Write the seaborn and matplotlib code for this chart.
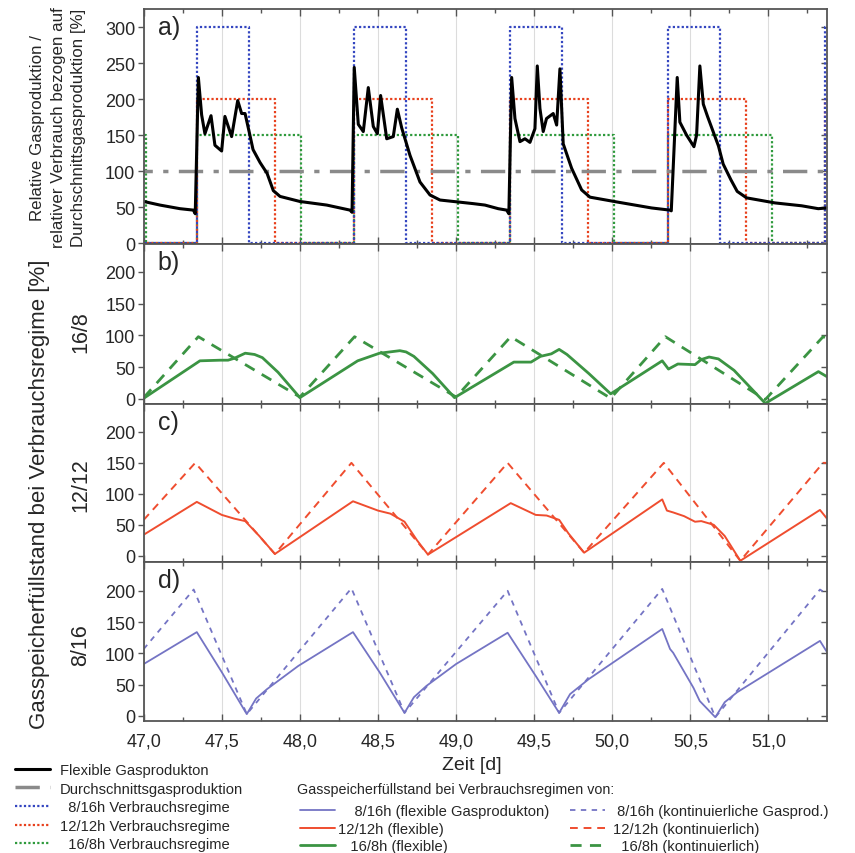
import numpy as np
import pandas as pd
import matplotlib
matplotlib.use("Agg")
import matplotlib.pyplot as plt
import seaborn as sns
from matplotlib.ticker import MultipleLocator, FuncFormatter
from matplotlib.lines import Line2D

# ---------------- data ----------------
# consumption regime start times [d] and durations [d], levels [%]
regime_start = [46.345, 47.34, 48.345, 49.345, 50.355, 51.365]
dur_8_16, level_8_16 = 0.333, 300
dur_12_12, level_12_12 = 0.50, 200
dur_16_8, level_16_8 = 0.667, 150
avg_level = 100

# flexible gas production [%]
prod_t = [47.0, 47.104, 47.232, 47.318, 47.33, 47.35, 47.371, 47.392, 47.431, 47.456,
          47.499, 47.52, 47.563, 47.602, 47.627, 47.649, 47.68, 47.70, 47.745, 47.79,
          47.83, 47.873, 48.0, 48.172, 48.321, 48.334, 48.348, 48.374, 48.406, 48.438,
          48.47, 48.496, 48.517, 48.556, 48.598, 48.624, 48.652, 48.705, 48.769, 48.833,
          48.897, 49.11, 49.185, 49.27, 49.324, 49.338, 49.356, 49.377, 49.409, 49.441,
          49.473, 49.505, 49.52, 49.537, 49.558, 49.579, 49.622, 49.644, 49.665, 49.686,
          49.74, 49.804, 49.857, 50.038, 50.252, 50.369, 50.378, 50.416, 50.433, 50.476,
          50.523, 50.54, 50.561, 50.583, 50.61, 50.68, 50.71, 50.76, 50.80, 50.86,
          51.042, 51.213, 51.319, 51.375]
prod_v = [58, 53, 48, 46, 41, 230, 178, 152, 177, 136,
          128, 176, 148, 198, 180, 180, 150, 130, 112, 97,
          73, 65, 58, 53, 46, 43, 244, 165, 155, 216,
          162, 152, 205, 145, 148, 186, 160, 122, 85, 67,
          60, 55, 53, 48, 46, 41, 230, 173, 141, 145,
          140, 159, 246, 187, 155, 173, 180, 164, 242, 138,
          104, 74, 64, 57, 49, 46, 45, 230, 168, 150,
          134, 150, 246, 193, 176, 135, 110, 88, 72, 63,
          56, 52, 48, 49]

# storage level 16/8 [%]
flex16_t = [47.0, 47.36, 47.49, 47.54, 47.58, 47.65, 47.71, 47.76, 47.86, 48.0,
            48.37, 48.44, 48.51, 48.64, 48.68, 48.73, 48.85, 48.99,
            49.37, 49.48, 49.54, 49.61, 49.66, 49.71, 49.85, 49.99,
            50.32, 50.36, 50.42, 50.53, 50.57, 50.62, 50.68, 50.78, 50.98,
            51.32, 51.375]
flex16_v = [1, 60, 61, 61, 64, 72, 70, 65, 42, 2,
            60, 66, 72, 76, 74, 67, 40, 2,
            58, 58, 67, 71, 78, 70, 40, 8,
            60, 47, 55, 54, 62, 66, 63, 45, -7,
            43, 35]
cont16_t = [47.0, 47.35, 48.0, 48.35, 49.0, 49.35, 49.99, 50.34, 50.98, 51.35, 51.375]
cont16_v = [2, 98, 3, 98, 3, 98, 1, 98, -1, 98, 95]

# storage level 12/12 [%]
flex12_t = [47.0, 47.34, 47.5, 47.58, 47.65, 47.74, 47.84,
            48.34, 48.5, 48.58, 48.67, 48.75, 48.82,
            49.35, 49.51, 49.58, 49.66, 49.72, 49.82,
            50.32, 50.35, 50.39, 50.46, 50.53, 50.57, 50.65, 50.72, 50.82,
            51.33, 51.375]
flex12_v = [34, 87, 66, 60, 56, 32, 3,
            88, 73, 68, 55, 25, 2,
            85, 66, 65, 58, 36, 5,
            91, 73, 70, 64, 55, 56, 50, 32, -8,
            74, 60]
cont12_t = [47.0, 47.33, 47.84, 48.33, 48.82, 49.33, 49.82, 50.33, 50.82, 51.35, 51.375]
cont12_v = [58, 150, 3, 150, 2, 150, 5, 150, -8, 150, 150]

# storage level 8/16 [%]
flex8_t = [47.0, 47.34, 47.5, 47.66, 47.72, 47.79, 47.99,
           48.34, 48.51, 48.67, 48.73, 48.81, 49.0,
           49.33, 49.51, 49.66, 49.73, 49.85,
           50.32, 50.37, 50.39, 50.52, 50.56, 50.66, 50.72, 50.80,
           51.33, 51.375]
flex8_v = [83, 134, 70, 3, 28, 43, 80,
           134, 70, 5, 30, 48, 83,
           133, 64, 5, 35, 59,
           139, 107, 101, 45, 24, -2, 22, 38,
           120, 102]
cont8_t = [47.0, 47.32, 47.66, 48.33, 48.67, 49.33, 49.66, 50.32, 50.66, 51.33, 51.375]
cont8_v = [107, 202, 3, 204, 5, 200, 5, 203, -2, 202, 195]

# ---------------- style ----------------
sns.set_style("white")
plt.rcParams["font.family"] = ["Liberation Sans", "DejaVu Sans"]

C_BLUE_DOT = "#3345c0"
C_RED_DOT = "#e8401c"
C_GREEN_DOT = "#2e9a3c"
C_GRAY = "#8a8a8a"
C_GREEN = "#3b9443"
C_RED = "#ef4d2f"
C_BLUE = "#7474c4"
SPINE = "#555555"

def step_series(starts, dur, level):
    xs, ys = [46.0], [0]
    for s in starts:
        xs += [s, s, s + dur, s + dur]
        ys += [0, level, level, 0]
    xs.append(52.0)
    ys.append(0)
    return pd.DataFrame({"t": xs, "v": ys})

fig = plt.figure(figsize=(8.55, 8.54), dpi=100)
gs = fig.add_gridspec(4, 1, left=143.7 / 855, right=827 / 855,
                      top=1 - 10 / 854, bottom=1 - 722 / 854,
                      height_ratios=[235, 160, 158, 159], hspace=0)
axes = [fig.add_subplot(gs[i]) for i in range(4)]

ylims = [(-1, 325), (-8, 244), (-10, 245), (-8, 246)]
ymax_tick = [300, 200, 200, 200]
letters = ["a)", "b)", "c)", "d)"]

for i, ax in enumerate(axes):
    ax.set_xlim(47.0, 51.375)
    ax.set_ylim(*ylims[i])
    ax.xaxis.set_major_locator(MultipleLocator(0.5))
    ax.xaxis.set_minor_locator(MultipleLocator(0.25))
    ax.set_yticks(np.arange(0, ymax_tick[i] + 1, 50))
    ax.grid(axis="x", which="major", color="#dcdcdc", lw=0.8)
    ax.set_axisbelow(True)
    for sp in ax.spines.values():
        sp.set_color(SPINE)
        sp.set_linewidth(1.3)
    ax.tick_params(axis="x", which="both", direction="in", top=True, bottom=True,
                   color=SPINE, labelsize=13, pad=8)
    ax.tick_params(axis="x", which="major", length=5, width=1)
    ax.tick_params(axis="x", which="minor", length=3, width=1)
    ax.tick_params(axis="y", which="major", direction="out", length=4, width=1,
                   color=SPINE, labelsize=13, pad=2, left=True)
    sec = ax.secondary_yaxis("right")
    sec.set_yticks(np.arange(0, ymax_tick[i] + 1, 50))
    sec.tick_params(direction="in", length=4, width=1, color=SPINE, labelright=False)
    sec.spines["right"].set_visible(False)
    if i < 3:
        ax.tick_params(axis="x", labelbottom=False)
    else:
        ax.xaxis.set_major_formatter(FuncFormatter(lambda v, p: f"{v:.1f}".replace(".", ",")))
    ax.annotate(letters[i], xy=(0, 1), xycoords="axes fraction", xytext=(14, -6),
                textcoords="offset pixels", ha="left", va="top", fontsize=18)

# panel a
ax = axes[0]
for starts, dur, lev, col in [(regime_start, dur_16_8, level_16_8, C_GREEN_DOT),
                              (regime_start, dur_12_12, level_12_12, C_RED_DOT),
                              (regime_start, dur_8_16, level_8_16, C_BLUE_DOT)]:
    df = step_series(starts, dur, lev)
    sns.lineplot(data=df, x="t", y="v", ax=ax, color=col, lw=1.6,
                 linestyle=(0, (1, 1)), estimator=None, sort=False)
avg_df = pd.DataFrame({"t": [46.9, 51.5], "v": [avg_level, avg_level]})
sns.lineplot(data=avg_df, x="t", y="v", ax=ax, color=C_GRAY, lw=2.5,
             linestyle=(0, (7, 3, 1.5, 3)), estimator=None, sort=False)
sns.lineplot(x=prod_t, y=prod_v, ax=ax, color="black", lw=2.2, estimator=None, sort=False)

# panels b-d
for ax, ft, fv, ct, cv, col, lw, dash in [
        (axes[1], flex16_t, flex16_v, cont16_t, cont16_v, C_GREEN, 2.0, (4, 3)),
        (axes[2], flex12_t, flex12_v, cont12_t, cont12_v, C_RED, 1.4, (4, 3)),
        (axes[3], flex8_t, flex8_v, cont8_t, cont8_v, C_BLUE, 1.3, (3, 3))]:
    sns.lineplot(x=ct, y=cv, ax=ax, color=col, lw=lw, linestyle=(0, dash),
                 estimator=None, sort=False)
    sns.lineplot(x=ft, y=fv, ax=ax, color=col, lw=lw, estimator=None, sort=False)

for ax in axes:
    ax.set_xlabel("")
    ax.set_ylabel("")
    if ax.get_legend() is not None:
        ax.get_legend().remove()

# axis labels
fig.text(472 / 855, 1 - 766 / 854, "Zeit [d]", ha="center", va="center", fontsize=14)
fig.text(58 / 855, 1 - 128 / 854,
         "Relative Gasproduktion /\nrelativer Verbrauch bezogen auf\nDurchschnittsgasproduktion [%]",
         rotation=90, ha="center", va="center", multialignment="center",
         fontsize=12.2, linespacing=1.45)
fig.text(40 / 855, 1 - 494 / 854, "Gasspeicherfüllstand bei Verbrauchsregime [%]",
         rotation=90, ha="center", va="center", fontsize=16)
for lab, yc in [("16/8", 332), ("12/12", 485), ("8/16", 645)]:
    fig.text(81 / 855, 1 - yc / 854, lab, rotation=90, ha="center", va="center",
             fontsize=15.5)

# legends
lk = dict(frameon=False, fontsize=10.6, borderpad=0, borderaxespad=0,
          loc="upper left", handlelength=2.4)
h_left = [Line2D([], [], color="black", lw=2.2),
          Line2D([], [], color=C_GRAY, lw=2.5, linestyle=(0, (7, 3, 1.5, 3))),
          Line2D([], [], color=C_BLUE_DOT, lw=1.6, linestyle=(0, (1, 1))),
          Line2D([], [], color=C_RED_DOT, lw=1.6, linestyle=(0, (1, 1))),
          Line2D([], [], color=C_GREEN_DOT, lw=1.6, linestyle=(0, (1, 1)))]
l_left = ["Flexible Gasprodukton", "Durchschnittsgasproduktion",
          "  8/16h Verbrauchsregime", "12/12h Verbrauchsregime", "  16/8h Verbrauchsregime"]
fig.legend(h_left, l_left, bbox_to_anchor=(15 / 855, 1 - 764 / 854),
           handletextpad=0.65, labelspacing=0.31, **lk)

fig.text(297 / 855, 1 - 790 / 854, "Gasspeicherfüllstand bei Verbrauchsregimen von:",
         ha="left", va="center", fontsize=10.3)
h_mid = [Line2D([], [], color=C_BLUE, lw=1.3),
         Line2D([], [], color=C_RED, lw=1.4),
         Line2D([], [], color=C_GREEN, lw=2.0)]
l_mid = ["    8/16h (flexible Gasprodukton)", "12/12h (flexible)", "   16/8h (flexible)"]
fig.legend(h_mid, l_mid, bbox_to_anchor=(300 / 855, 1 - 805 / 854),
           handletextpad=0.2, labelspacing=0.25, **lk)
h_right = [Line2D([], [], color=C_BLUE, lw=1.3, linestyle=(0, (3, 3))),
           Line2D([], [], color=C_RED, lw=1.4, linestyle=(0, (4, 3))),
           Line2D([], [], color=C_GREEN, lw=2.0, linestyle=(0, (4, 3)))]
l_right = [" 8/16h (kontinuierliche Gasprod.)", "12/12h (kontinuierlich)",
           "  16/8h (kontinuierlich)"]
fig.legend(h_right, l_right, bbox_to_anchor=(570 / 855, 1 - 805 / 854),
           handletextpad=0.5, labelspacing=0.25, **lk)

fig.savefig("out.png", dpi=100)
